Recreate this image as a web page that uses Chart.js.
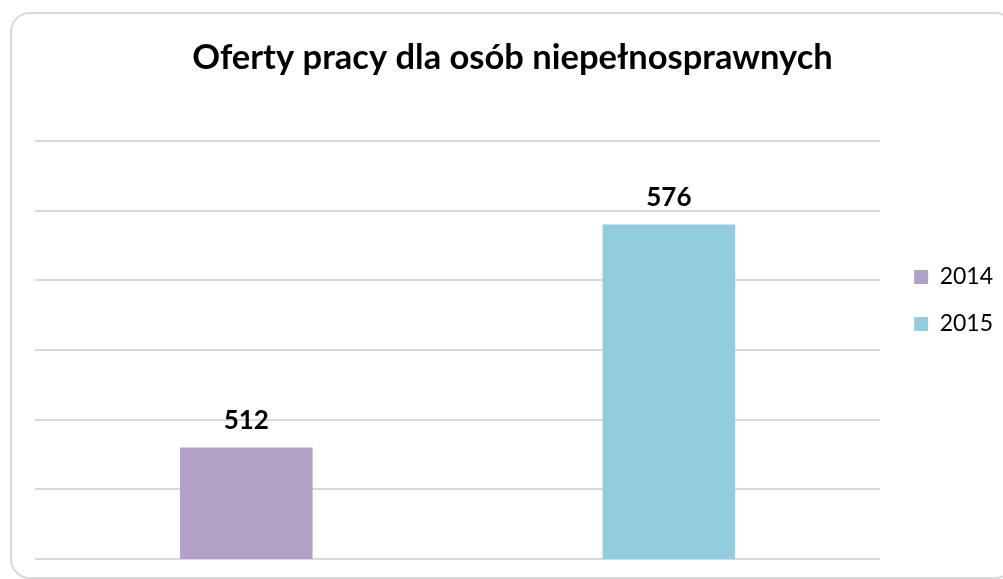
<!DOCTYPE html>
<html>
<head>
<meta charset="utf-8">
<script src="https://cdn.jsdelivr.net/npm/chart.js@4/dist/chart.umd.min.js"></script>
<style>
  html, body { margin: 0; padding: 0; background: #fff; overflow: hidden; }
  #frame {
    position: absolute; left: 10px; top: 12px; width: 1005px; height: 567px;
    border: 2px solid #d9d9d9; border-radius: 20px; box-sizing: border-box;
  }
  #wrap { position: absolute; left: 0; top: 0; width: 1003px; height: 579px; }
</style>
</head>
<body>
<div id="frame"></div>
<div id="wrap"><canvas id="chart"></canvas></div>
<script>
const years = ['2014', '2015'];
const offers = [512, 576];
const barColors = ['#b3a2c7', '#93cddd'];
const axisMin = 480;
const axisMax = 600;
const axisStep = 20;

// value printed above each bar
const valueLabels = {
  id: 'valueLabels',
  afterDatasetsDraw(chart) {
    const ctx = chart.ctx;
    const meta = chart.getDatasetMeta(0);
    ctx.save();
    ctx.font = 'bold 26px Lato';
    ctx.fillStyle = '#000';
    ctx.textAlign = 'center';
    ctx.textBaseline = 'alphabetic';
    meta.data.forEach((bar, i) => {
      ctx.fillText(String(offers[i]), bar.x, bar.y - 19);
    });
    ctx.restore();
  }
};

const ctx = document.getElementById('chart').getContext('2d');
new Chart(ctx, {
  type: 'bar',
  data: {
    labels: years,
    datasets: [{
      data: offers,
      xAxisID: 'x',
      yAxisID: 'y',
      backgroundColor: barColors,
      borderWidth: 0,
      categoryPercentage: 1,
      barPercentage: 0.314
    }]
  },
  options: {
    responsive: true,
    maintainAspectRatio: false,
    animation: false,
    layout: { padding: { left: 22, right: 0, top: 0, bottom: 20 } },
    plugins: {
      title: {
        display: true,
        text: 'Oferty pracy dla osób niepełnosprawnych',
        color: '#000',
        font: { family: 'Lato', size: 34.5, weight: 'bold' },
        padding: { top: 37, bottom: 62.6 }
      },
      legend: {
        position: 'right',
        align: 'start',
        // empty title only pushes the entries down
        title: { display: true, text: '', font: { size: 10 }, padding: { top: 229.5, bottom: 0 } },
        labels: {
          boxWidth: 14,
          boxHeight: 14,
          padding: 24,
          color: '#000',
          font: { family: 'Lato', size: 23 },
          generateLabels(chart) {
            return years.map((y, i) => ({
              text: y,
              fillStyle: barColors[i],
              strokeStyle: barColors[i],
              fontColor: '#000',
              lineWidth: 0,
              hidden: false,
              index: i
            }));
          }
        },
        onClick() {}
      },
      tooltip: { enabled: false }
    },
    scales: {
      x: { display: false },
      // blank gutter on the left of the plot
      gutter: {
        type: 'linear',
        position: 'left',
        border: { display: false },
        grid: { display: false, drawTicks: false },
        ticks: { display: false },
        afterFit(scale) { scale.width = 13; }
      },
      y: {
        position: 'right',
        min: axisMin,
        max: axisMax,
        border: { display: false },
        grid: { color: '#d9d9d9', lineWidth: 2, drawTicks: false },
        ticks: { display: false, stepSize: axisStep },
        afterFit(scale) { scale.width = 10; }
      }
    }
  },
  plugins: [valueLabels]
});
</script>
</body>
</html>
